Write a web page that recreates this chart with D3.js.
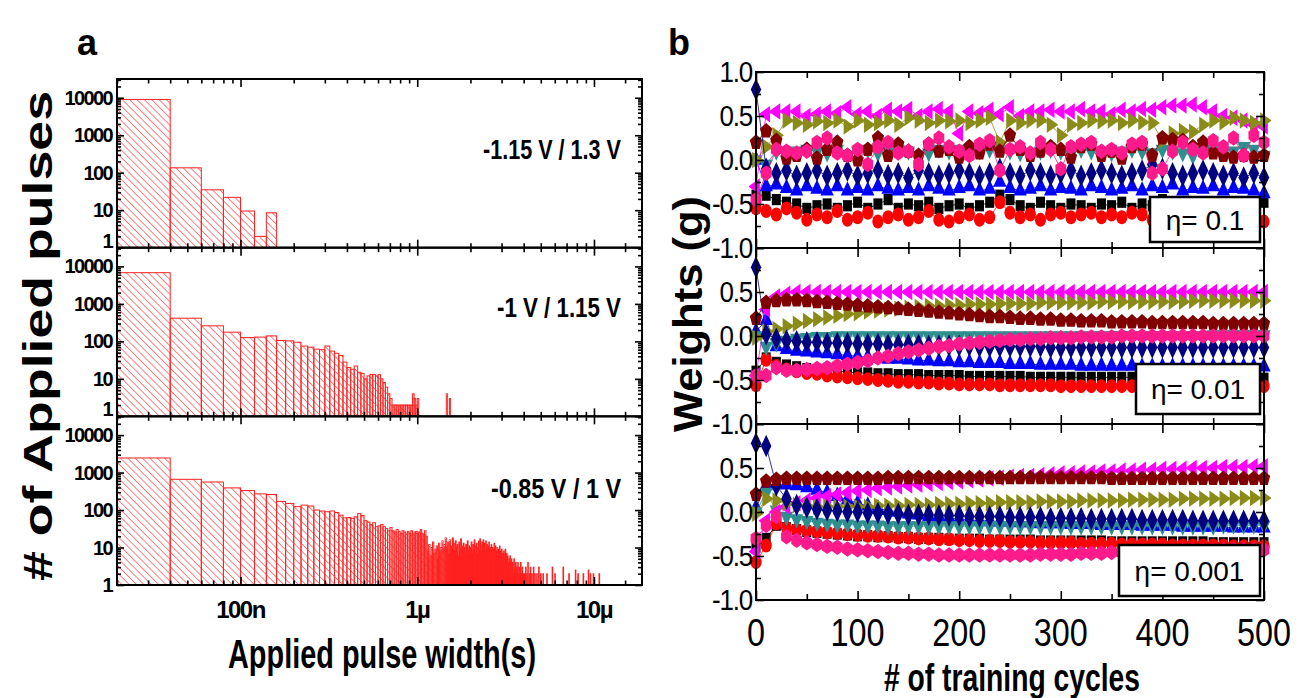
<!DOCTYPE html>
<html>
<head>
<meta charset="utf-8">
<title>Pulse width histograms and weights</title>
<script src="https://d3js.org/d3.v7.min.js"></script>
<style>
  body { margin: 0; background: #fff; }
  svg { display: block; font-family: "Liberation Sans", Arial, sans-serif; }
</style>
</head>
<body>
<svg id="chart" width="1309" height="698"></svg>
<script>
// ---------- panel a : counts per 20 ns bin (bin k covers k*20ns .. (k+1)*20ns)
const binNs = 20;
const countsHigh = [9000, 135, 35, 22, 9.5, 2, 8.5];
const countsMid = [6800, 415, 260, 176, 126, 130, 140, 106, 103, 95,
  75, 70, 62, 60, 75, 55, 48, 42, 28, 20,
  18, 22, 15, 14, 10, 12, 13, 13, 12, 13,
  10, 8, 6, 4, 3, 2, 2, 2, 2, 2,
  2, 2, 2, 2, 2, 2, 4, 3, 2, 3];
const extraMid = [[73, 4], [76, 3]];
const countsLow = [2450, 660, 560, 390, 330, 270, 260, 170, 150, 123,
  135, 128, 100, 94, 90, 94, 86, 73, 62, 63,
  60, 66, 80, 72, 52, 48, 41, 46, 36, 38,
  41, 36, 32, 28, 34, 28, 26, 30, 27, 24,
  28, 26, 23, 27, 24, 28, 23, 26, 27, 24,
  26, 30, 24, 22, 28, 20, 8, 12, 6, 10,
  14, 7, 9, 11, 5, 13, 8, 10, 15, 9,
  12, 18, 10, 14, 7, 16, 11, 9, 18, 13,
  8, 15, 10, 12, 6, 14, 9, 17, 11, 8,
  13, 10, 7, 12, 9, 15, 8, 11, 6, 10,
  14, 7, 12, 9, 16, 8, 11, 13, 7, 10,
  15, 9, 17, 12, 8, 14, 11, 16, 9, 13,
  7, 15, 10, 12, 8, 11, 14, 9, 6, 10,
  12, 8, 10, 6, 9, 13, 7, 11, 5, 8,
  10, 6, 9, 4, 7, 11, 5, 8, 6, 9,
  4, 7, 5, 8, 3, 6, 9, 4, 5, 7,
  3, 6, 4, 2, 5, 3, 6, 4, 2, 5,
  3, 0, 4, 2, 0, 5, 3, 0, 2, 4,
  0, 3, 2, 0, 4, 0, 2, 3, 0, 2,
  0, 4, 0, 2, 0, 3, 0, 0, 2, 0,
  0, 2, 0, 0, 3, 0, 0, 2, 0, 0,
  4, 0, 0, 0, 2, 0, 0, 3, 0, 0,
  0, 2, 0, 0, 0, 0, 3, 0, 0, 0,
  2, 0, 0, 0, 0, 0, 2, 0, 0, 0,
  0, 0, 3, 0, 0, 0, 0, 0, 2, 0,
  0, 0, 0, 0, 0, 0, 2, 0, 0, 0];
const extraLow = [[270, 2], [290, 3], [300, 2], [334, 3], [360, 2], [392, 2.5],
  [405, 2], [434, 2], [464, 2.5], [476, 2], [495, 2], [534, 2]];
const voltLabels = ["-1.15 V / 1.3 V", "-1 V / 1.15 V", "-0.85 V / 1 V"];
const yTicksA = [1, 10, 100, 1000, 10000];
const xTicksA = [1e-7, 1e-6, 1e-5];
const xTickLabelsA = ["100n", "1\u00b5", "10\u00b5"];

// ---------- panel b : weights every 10 training cycles
const cycles = [0, 10, 20, 30, 40, 50, 60, 70, 80, 90, 100, 110, 120, 130, 140, 150, 160, 170, 180, 190,
  200, 210, 220, 230, 240, 250, 260, 270, 280, 290, 300, 310, 320, 330, 340, 350, 360, 370, 380, 390,
  400, 410, 420, 430, 440, 450, 460, 470, 480, 490, 500];
const etaLabels = ["\u03b7= 0.1", "\u03b7= 0.01", "\u03b7= 0.001"];

// eta = 0.1
const w1_square = [-0.40, -0.40, -0.45, -0.48, -0.50, -0.55, -0.52, -0.50, -0.55, -0.52,
  -0.48, -0.55, -0.50, -0.45, -0.55, -0.50, -0.52, -0.48, -0.55, -0.52,
  -0.50, -0.55, -0.52, -0.48, -0.40, -0.45, -0.52, -0.55, -0.48, -0.52,
  -0.55, -0.50, -0.52, -0.55, -0.50, -0.52, -0.48, -0.55, -0.50, -0.52,
  -0.45, -0.50, -0.52, -0.48, -0.50, -0.55, -0.52, -0.50, -0.48, -0.55, -0.48];
const w1_circle = [-0.55, -0.58, -0.62, -0.55, -0.60, -0.68, -0.62, -0.65, -0.58, -0.68,
  -0.65, -0.60, -0.70, -0.65, -0.62, -0.68, -0.65, -0.58, -0.68, -0.70,
  -0.65, -0.62, -0.68, -0.65, -0.48, -0.60, -0.65, -0.62, -0.68, -0.62,
  -0.60, -0.65, -0.62, -0.60, -0.65, -0.62, -0.65, -0.60, -0.62, -0.68,
  -0.62, -0.60, -0.65, -0.62, -0.58, -0.60, -0.62, -0.65, -0.60, -0.62, -0.70];
const w1_up = [0.00, -0.30, -0.28, -0.32, -0.35, -0.30, -0.33, -0.35, -0.30, -0.35,
  -0.32, -0.35, -0.30, -0.33, -0.35, -0.32, -0.35, -0.30, -0.33, -0.35,
  -0.32, -0.30, -0.35, -0.33, -0.25, -0.32, -0.35, -0.33, -0.30, -0.35,
  -0.32, -0.33, -0.35, -0.30, -0.32, -0.35, -0.33, -0.30, -0.35, -0.30,
  -0.32, -0.28, -0.35, -0.32, -0.33, -0.30, -0.35, -0.32, -0.33, -0.35, -0.38];
const w1_down = [0.00, -0.05, 0.10, 0.08, 0.10, 0.12, 0.10, 0.08, 0.12, 0.05,
  0.10, 0.12, 0.08, 0.10, 0.12, 0.10, 0.05, 0.08, 0.12, 0.10,
  0.12, 0.08, 0.10, 0.12, 0.15, 0.10, 0.08, 0.05, 0.10, 0.12,
  0.10, 0.08, 0.12, 0.10, 0.05, 0.08, 0.10, 0.12, 0.10, 0.08,
  0.12, 0.10, 0.08, 0.05, 0.10, 0.12, 0.08, 0.10, 0.15, 0.12, 0.05];
const w1_left = [-0.30, 0.52, 0.55, 0.55, 0.55, 0.50, 0.52, 0.55, 0.53, 0.60,
  0.52, 0.55, 0.50, 0.57, 0.55, 0.58, 0.50, 0.55, 0.58, 0.55,
  0.30, 0.55, 0.53, 0.57, 0.52, 0.60, 0.50, 0.55, 0.55, 0.57,
  0.55, 0.55, 0.58, 0.55, 0.55, 0.52, 0.57, 0.55, 0.58, 0.57,
  0.60, 0.62, 0.62, 0.63, 0.60, 0.55, 0.50, 0.48, 0.45, 0.40, 0.38];
const w1_right = [0.00, 0.15, 0.28, 0.45, 0.42, 0.40, 0.44, 0.42, 0.45, 0.38,
  0.45, 0.40, 0.42, 0.45, 0.40, 0.48, 0.45, 0.42, 0.45, 0.44,
  0.45, 0.42, 0.45, 0.48, 0.20, 0.45, 0.42, 0.45, 0.45, 0.40,
  0.28, 0.40, 0.42, 0.45, 0.44, 0.45, 0.42, 0.45, 0.43, 0.42,
  0.22, 0.30, 0.33, 0.32, 0.40, 0.45, 0.43, 0.48, 0.45, 0.42, 0.45];
const w1_diamond = [0.80, -0.10, -0.15, -0.12, -0.18, -0.15, -0.12, -0.18, -0.15, -0.12,
  -0.18, -0.15, -0.12, -0.17, -0.15, -0.20, -0.12, -0.15, -0.18, -0.15,
  -0.12, -0.15, -0.18, -0.15, -0.10, -0.15, -0.18, -0.12, -0.15, -0.18,
  -0.15, -0.12, -0.18, -0.15, -0.12, -0.15, -0.18, -0.15, -0.12, -0.05,
  -0.10, -0.15, -0.18, -0.15, -0.12, -0.15, -0.18, -0.15, -0.20, -0.15, -0.20];
const w1_pentagon = [0.20, 0.33, 0.22, 0.02, 0.05, 0.12, 0.02, 0.12, 0.20, 0.05,
  0.00, 0.12, 0.25, 0.05, 0.18, 0.10, 0.05, 0.18, 0.10, 0.12,
  0.03, 0.15, 0.08, 0.18, 0.10, 0.28, 0.12, 0.05, 0.10, 0.15,
  0.12, 0.03, 0.15, 0.18, 0.05, 0.10, 0.02, 0.15, 0.18, 0.05,
  0.25, 0.23, 0.22, 0.15, 0.20, 0.08, 0.05, 0.03, 0.05, 0.03, 0.05];
const w1_hexagon = [-0.45, -0.15, 0.12, 0.10, 0.08, 0.10, 0.20, 0.25, 0.08, 0.05,
  0.12, -0.05, 0.15, 0.20, 0.08, 0.10, -0.05, 0.18, 0.25, 0.15,
  0.10, 0.05, 0.18, 0.22, -0.12, 0.12, 0.15, 0.08, 0.20, 0.12,
  -0.10, 0.15, 0.18, 0.20, 0.10, 0.12, 0.08, 0.18, 0.20, -0.15,
  -0.10, 0.10, 0.20, 0.12, 0.08, 0.22, 0.15, 0.25, 0.05, 0.28, 0.20];

// eta = 0.01
const w2_square = [-0.40, -0.25, -0.30, -0.33, -0.35, -0.37, -0.38, -0.39, -0.40, -0.41,
  -0.42, -0.42, -0.43, -0.43, -0.44, -0.44, -0.44, -0.45, -0.45, -0.45,
  -0.45, -0.46, -0.46, -0.46, -0.46, -0.46, -0.46, -0.47, -0.47, -0.47,
  -0.47, -0.47, -0.47, -0.47, -0.47, -0.47, -0.47, -0.47, -0.47, -0.47,
  -0.48, -0.48, -0.48, -0.48, -0.48, -0.48, -0.48, -0.48, -0.48, -0.48, -0.48];
const w2_circle = [-0.56, -0.27, -0.34, -0.38, -0.40, -0.42, -0.43, -0.45, -0.46, -0.47,
  -0.48, -0.49, -0.50, -0.51, -0.52, -0.52, -0.53, -0.53, -0.54, -0.54,
  -0.55, -0.55, -0.55, -0.55, -0.56, -0.56, -0.56, -0.56, -0.56, -0.56,
  -0.57, -0.57, -0.57, -0.57, -0.57, -0.57, -0.57, -0.57, -0.57, -0.57,
  -0.57, -0.57, -0.57, -0.57, -0.57, -0.57, -0.57, -0.57, -0.57, -0.57, -0.57];
const w2_up = [0.05, 0.18, -0.12, -0.15, -0.17, -0.18, -0.19, -0.20, -0.21, -0.22,
  -0.23, -0.24, -0.25, -0.26, -0.26, -0.27, -0.28, -0.28, -0.29, -0.29,
  -0.30, -0.30, -0.31, -0.31, -0.31, -0.32, -0.32, -0.32, -0.33, -0.33,
  -0.33, -0.33, -0.34, -0.34, -0.34, -0.34, -0.34, -0.34, -0.35, -0.35,
  -0.35, -0.35, -0.35, -0.35, -0.35, -0.35, -0.35, -0.35, -0.35, -0.35, -0.35];
const w2_down = [0.00, -0.12, -0.08, -0.05, -0.03, -0.02, -0.01, -0.01, 0.00, 0.00,
  0.00, 0.00, 0.00, 0.00, 0.00, 0.00, 0.00, 0.00, 0.00, 0.00,
  0.00, 0.00, 0.00, 0.00, 0.00, 0.00, 0.00, 0.00, 0.00, 0.00,
  0.00, 0.00, 0.00, 0.00, 0.00, 0.00, 0.00, 0.00, 0.00, 0.00,
  0.00, 0.00, 0.00, 0.00, 0.00, 0.01, 0.01, 0.01, 0.01, 0.01, 0.01];
const w2_left = [-0.45, 0.30, 0.45, 0.48, 0.50, 0.50, 0.50, 0.50, 0.50, 0.50,
  0.50, 0.50, 0.50, 0.50, 0.50, 0.50, 0.50, 0.50, 0.50, 0.50,
  0.50, 0.50, 0.50, 0.50, 0.50, 0.50, 0.50, 0.50, 0.50, 0.50,
  0.50, 0.50, 0.50, 0.50, 0.50, 0.50, 0.50, 0.50, 0.50, 0.50,
  0.50, 0.50, 0.50, 0.50, 0.50, 0.50, 0.50, 0.50, 0.50, 0.50, 0.50];
const w2_right = [-0.02, 0.05, 0.08, 0.11, 0.14, 0.17, 0.19, 0.21, 0.23, 0.25,
  0.26, 0.28, 0.29, 0.30, 0.31, 0.32, 0.33, 0.34, 0.34, 0.35,
  0.35, 0.36, 0.36, 0.36, 0.37, 0.37, 0.37, 0.37, 0.38, 0.38,
  0.38, 0.38, 0.38, 0.38, 0.39, 0.39, 0.39, 0.39, 0.39, 0.39,
  0.39, 0.39, 0.39, 0.40, 0.40, 0.40, 0.40, 0.40, 0.40, 0.40, 0.40];
const w2_diamond = [0.78, 0.02, -0.03, -0.05, -0.06, -0.07, -0.07, -0.08, -0.08, -0.08,
  -0.09, -0.09, -0.09, -0.10, -0.10, -0.10, -0.10, -0.11, -0.11, -0.11,
  -0.11, -0.11, -0.12, -0.12, -0.12, -0.12, -0.12, -0.12, -0.12, -0.13,
  -0.13, -0.13, -0.13, -0.13, -0.13, -0.13, -0.13, -0.13, -0.13, -0.13,
  -0.13, -0.13, -0.13, -0.13, -0.13, -0.13, -0.13, -0.13, -0.13, -0.13, -0.13];
const w2_pentagon = [0.20, 0.38, 0.40, 0.41, 0.41, 0.40, 0.39, 0.38, 0.37, 0.36,
  0.35, 0.34, 0.33, 0.32, 0.31, 0.30, 0.29, 0.28, 0.27, 0.26,
  0.25, 0.24, 0.23, 0.22, 0.22, 0.21, 0.20, 0.20, 0.19, 0.19,
  0.18, 0.18, 0.17, 0.17, 0.17, 0.16, 0.16, 0.16, 0.16, 0.15,
  0.15, 0.15, 0.15, 0.15, 0.15, 0.14, 0.14, 0.14, 0.14, 0.14, 0.14];
const w2_hexagon = [-0.45, -0.45, -0.36, -0.39, -0.39, -0.38, -0.37, -0.36, -0.34, -0.32,
  -0.30, -0.28, -0.25, -0.23, -0.20, -0.18, -0.16, -0.14, -0.12, -0.11,
  -0.09, -0.08, -0.07, -0.06, -0.05, -0.04, -0.04, -0.03, -0.03, -0.02,
  -0.02, -0.02, -0.01, -0.01, -0.01, -0.01, 0.00, 0.00, 0.00, 0.00,
  0.00, 0.00, 0.00, 0.00, 0.00, 0.00, 0.00, 0.00, 0.00, 0.00, 0.00];

// eta = 0.001
const w3_square = [-0.40, -0.30, -0.15, -0.18, -0.20, -0.22, -0.23, -0.24, -0.25, -0.26,
  -0.27, -0.27, -0.28, -0.28, -0.29, -0.29, -0.30, -0.30, -0.30, -0.31,
  -0.31, -0.31, -0.31, -0.32, -0.32, -0.32, -0.32, -0.32, -0.33, -0.33,
  -0.33, -0.33, -0.33, -0.33, -0.33, -0.34, -0.34, -0.34, -0.34, -0.34,
  -0.34, -0.34, -0.34, -0.34, -0.34, -0.35, -0.35, -0.35, -0.35, -0.35, -0.35];
const w3_circle = [-0.57, -0.38, -0.13, -0.18, -0.20, -0.21, -0.22, -0.23, -0.24, -0.25,
  -0.26, -0.27, -0.27, -0.28, -0.29, -0.29, -0.30, -0.30, -0.31, -0.31,
  -0.32, -0.32, -0.33, -0.33, -0.33, -0.34, -0.34, -0.34, -0.35, -0.35,
  -0.35, -0.35, -0.36, -0.36, -0.36, -0.36, -0.37, -0.37, -0.37, -0.37,
  -0.37, -0.38, -0.38, -0.38, -0.38, -0.38, -0.38, -0.39, -0.39, -0.39, -0.39];
const w3_up = [0.05, 0.30, 0.32, 0.31, 0.30, 0.28, 0.25, 0.22, 0.18, 0.14,
  0.10, 0.07, 0.04, 0.02, 0.00, -0.02, -0.03, -0.05, -0.06, -0.07,
  -0.08, -0.09, -0.10, -0.10, -0.11, -0.11, -0.12, -0.12, -0.13, -0.13,
  -0.13, -0.14, -0.14, -0.14, -0.15, -0.15, -0.15, -0.15, -0.16, -0.16,
  -0.16, -0.16, -0.17, -0.17, -0.17, -0.17, -0.17, -0.18, -0.18, -0.18, -0.18];
const w3_down = [0.00, 0.22, 0.02, -0.05, -0.08, -0.10, -0.12, -0.13, -0.14, -0.14,
  -0.15, -0.15, -0.15, -0.16, -0.16, -0.16, -0.16, -0.16, -0.16, -0.16,
  -0.16, -0.16, -0.16, -0.16, -0.16, -0.16, -0.16, -0.16, -0.16, -0.16,
  -0.16, -0.16, -0.16, -0.16, -0.16, -0.16, -0.16, -0.16, -0.16, -0.16,
  -0.16, -0.16, -0.16, -0.16, -0.16, -0.16, -0.15, -0.15, -0.15, -0.15, -0.15];
const w3_left = [-0.45, -0.10, 0.00, 0.06, 0.10, 0.13, 0.16, 0.18, 0.20, 0.22,
  0.24, 0.25, 0.27, 0.28, 0.29, 0.30, 0.31, 0.32, 0.33, 0.34,
  0.35, 0.36, 0.37, 0.38, 0.39, 0.40, 0.41, 0.41, 0.42, 0.43,
  0.44, 0.44, 0.45, 0.45, 0.46, 0.46, 0.47, 0.47, 0.48, 0.48,
  0.49, 0.49, 0.49, 0.50, 0.50, 0.50, 0.51, 0.51, 0.51, 0.52, 0.52];
const w3_right = [-0.02, 0.15, 0.13, 0.10, 0.08, 0.07, 0.06, 0.06, 0.06, 0.06,
  0.06, 0.06, 0.07, 0.07, 0.07, 0.08, 0.08, 0.08, 0.09, 0.09,
  0.09, 0.10, 0.10, 0.10, 0.11, 0.11, 0.11, 0.11, 0.12, 0.12,
  0.12, 0.12, 0.13, 0.13, 0.13, 0.13, 0.13, 0.14, 0.14, 0.14,
  0.14, 0.14, 0.15, 0.15, 0.15, 0.15, 0.15, 0.16, 0.16, 0.16, 0.16];
const w3_diamond = [0.78, 0.75, 0.30, 0.15, 0.08, 0.05, 0.03, 0.02, 0.01, 0.00,
  0.00, -0.01, -0.01, -0.02, -0.02, -0.03, -0.03, -0.03, -0.04, -0.04,
  -0.04, -0.05, -0.05, -0.05, -0.05, -0.06, -0.06, -0.06, -0.06, -0.07,
  -0.07, -0.07, -0.07, -0.08, -0.08, -0.08, -0.08, -0.08, -0.09, -0.09,
  -0.09, -0.09, -0.09, -0.10, -0.10, -0.10, -0.10, -0.10, -0.10, -0.10, -0.10];
const w3_pentagon = [0.20, 0.35, 0.37, 0.38, 0.38, 0.38, 0.38, 0.38, 0.38, 0.38,
  0.38, 0.38, 0.38, 0.39, 0.39, 0.39, 0.39, 0.39, 0.39, 0.39,
  0.39, 0.39, 0.39, 0.39, 0.39, 0.39, 0.39, 0.39, 0.39, 0.39,
  0.39, 0.39, 0.39, 0.39, 0.39, 0.38, 0.38, 0.38, 0.38, 0.38,
  0.38, 0.38, 0.38, 0.38, 0.38, 0.38, 0.38, 0.38, 0.38, 0.38, 0.38];
const w3_hexagon = [-0.30, -0.15, -0.05, -0.28, -0.32, -0.35, -0.37, -0.39, -0.40, -0.42,
  -0.43, -0.44, -0.45, -0.46, -0.47, -0.47, -0.48, -0.48, -0.49, -0.49,
  -0.49, -0.49, -0.49, -0.49, -0.49, -0.49, -0.49, -0.49, -0.48, -0.48,
  -0.48, -0.48, -0.47, -0.47, -0.47, -0.46, -0.46, -0.46, -0.45, -0.45,
  -0.45, -0.45, -0.44, -0.44, -0.44, -0.44, -0.43, -0.43, -0.43, -0.43, -0.43];

const seriesColors = ["#000000", "#ff0000", "#0000ff", "#2f8f8f", "#ff00ff", "#8b8b1a", "#000080", "#800000", "#ff1a8c"];

// ---------- custom marker shapes
function polygonSymbol(n, rot) {
  return {
    draw(ctx, size) {
      const r = Math.sqrt(size / (0.5 * n * Math.sin(2 * Math.PI / n)));
      for (let i = 0; i < n; i++) {
        const a = rot + i * 2 * Math.PI / n;
        if (i === 0) ctx.moveTo(r * Math.cos(a), r * Math.sin(a));
        else ctx.lineTo(r * Math.cos(a), r * Math.sin(a));
      }
      ctx.closePath();
    }
  };
}
const tri = polygonSymbol(3, -Math.PI / 2);
const markers = [
  { type: d3.symbolSquare, size: 90, rot: 0 },
  { type: d3.symbolCircle, size: 110, rot: 0 },
  { type: tri, size: 85, rot: 0 },
  { type: tri, size: 85, rot: 180 },
  { type: tri, size: 85, rot: -90 },
  { type: tri, size: 85, rot: 90 },
  { type: d3.symbolDiamond, size: 105, rot: 0 },
  { type: polygonSymbol(5, -Math.PI / 2), size: 110, rot: 0 },
  { type: polygonSymbol(6, -Math.PI / 2), size: 112, rot: 0 }
];

const svg = d3.select("#chart");
const defs = svg.append("defs");
defs.append("pattern")
  .attr("id", "hatch")
  .attr("patternUnits", "userSpaceOnUse")
  .attr("width", 5.2).attr("height", 5.2)
  .attr("patternTransform", "rotate(-45)")
  .append("line")
  .attr("x1", 0).attr("y1", 0).attr("x2", 0).attr("y2", 5.2)
  .attr("stroke", "#ff3030").attr("stroke-width", 1.2);

// ================= panel a =================
const aLeft = 117, aRight = 642, aTop = 79, aBottom = 585;
const aH = (aBottom - aTop) / 3;
const xA = d3.scaleLog().domain([2e-8, 1.87e-5]).range([aLeft, aRight]);
const yDomainA = [1, Math.pow(10, 4.5)];
const panelsA = [
  { counts: countsHigh, extra: [] },
  { counts: countsMid, extra: extraMid },
  { counts: countsLow, extra: extraLow }
];
const xMinorA = [];
[1e-8, 1e-7, 1e-6].forEach(dec => { for (let m = 2; m <= 9; m++) { if (dec * m >= 2e-8) xMinorA.push(dec * m); } });
xMinorA.push(1.5e-5);
const yMinorA = [];
[1, 10, 100, 1000, 10000].forEach(dec => { for (let m = 2; m <= 9; m++) { if (dec * m < yDomainA[1]) yMinorA.push(dec * m); } });

defs.append("clipPath").attr("id", "clipA")
  .append("rect").attr("x", aLeft).attr("y", aTop).attr("width", aRight - aLeft).attr("height", aBottom - aTop);

panelsA.forEach((p, i) => {
  const top = aTop + i * aH, bot = top + aH;
  const y = d3.scaleLog().domain(yDomainA).range([bot, top]);
  const g = svg.append("g");
  const bars = p.counts.map((c, j) => ({ k: j + 1, c: c })).concat(p.extra.map(e => ({ k: e[0], c: e[1] })))
    .filter(d => d.c > 1);
  g.append("g").attr("clip-path", "url(#clipA)")
    .selectAll("rect").data(bars).join("rect")
    .attr("x", d => xA(d.k * binNs * 1e-9))
    .attr("width", d => Math.max(0.6, xA((d.k + 1) * binNs * 1e-9) - xA(d.k * binNs * 1e-9)))
    .attr("y", d => y(d.c))
    .attr("height", d => y(1) - y(d.c))
    .attr("fill", "url(#hatch)")
    .attr("stroke", "#ff2020").attr("stroke-width", 1);

  // ticks (inward on all four sides)
  const axes = [
    [d3.axisBottom(xA).tickValues(xTicksA).tickSize(-8), `translate(0,${bot})`],
    [d3.axisBottom(xA).tickValues(xMinorA).tickSize(-4.5), `translate(0,${bot})`],
    [d3.axisTop(xA).tickValues(xTicksA).tickSize(-8), `translate(0,${top})`],
    [d3.axisTop(xA).tickValues(xMinorA).tickSize(-4.5), `translate(0,${top})`],
    [d3.axisLeft(y).tickValues(yTicksA).tickSize(-7), `translate(${aLeft},0)`],
    [d3.axisLeft(y).tickValues(yMinorA).tickSize(-4), `translate(${aLeft},0)`],
    [d3.axisRight(y).tickValues(yTicksA).tickSize(-7), `translate(${aRight},0)`],
    [d3.axisRight(y).tickValues(yMinorA).tickSize(-4), `translate(${aRight},0)`]
  ];
  axes.forEach(([ax, tr]) => {
    const a = g.append("g").attr("transform", tr).call(ax.tickFormat(""));
    a.select(".domain").remove();
    a.selectAll("line").attr("stroke", "#000").attr("stroke-width", 1.6);
  });
  g.append("rect").attr("x", aLeft).attr("y", top).attr("width", aRight - aLeft).attr("height", aH)
    .attr("fill", "none").attr("stroke", "#000").attr("stroke-width", 2);

  // the "1" label of the upper two panels sits a little above the shared border
  g.selectAll(".ylab").data(yTicksA).join("text")
    .attr("x", aLeft - 5).attr("y", d => y(d) + (d === 1 && i < 2 ? 0 : 7))
    .attr("text-anchor", "end").attr("font-size", 20).attr("font-weight", "bold")
    .attr("letter-spacing", -1.6)
    .text(d => d);

  g.append("text")
    .attr("x", 621).attr("y", top + [80, 69, 82][i])
    .attr("text-anchor", "end").attr("font-size", 27).attr("font-weight", "bold")
    .attr("textLength", [138, 124, 130][i]).attr("lengthAdjust", "spacingAndGlyphs")
    .text(voltLabels[i]);
});

svg.selectAll(".xlabA").data(xTicksA).join("text")
  .attr("x", d => xA(d)).attr("y", 618)
  .attr("text-anchor", "middle").attr("font-size", 24).attr("font-weight", "bold")
  .attr("letter-spacing", -1.5)
  .text((d, i) => xTickLabelsA[i]);

svg.append("text").attr("x", 382).attr("y", 668)
  .attr("text-anchor", "middle").attr("font-size", 40).attr("font-weight", "bold")
  .attr("textLength", 308).attr("lengthAdjust", "spacingAndGlyphs")
  .text("Applied pulse width(s)");

svg.append("text").attr("transform", "translate(52,336) rotate(-90)")
  .attr("text-anchor", "middle").attr("font-size", 40).attr("font-weight", "bold")
  .attr("textLength", 490).attr("lengthAdjust", "spacingAndGlyphs")
  .text("# of Applied pulses");

svg.append("text").attr("x", 77).attr("y", 55).attr("font-size", 36).attr("font-weight", "bold").text("a");

// ================= panel b =================
const bLeft = 756, bRight = 1264, bTop = 72, bBottom = 600;
const bH = (bBottom - bTop) / 3;
const xB = d3.scaleLinear().domain([0, 500]).range([bLeft, bRight]);
const panelsB = [
  [w1_square, w1_circle, w1_up, w1_down, w1_left, w1_right, w1_diamond, w1_pentagon, w1_hexagon],
  [w2_square, w2_circle, w2_up, w2_down, w2_left, w2_right, w2_diamond, w2_pentagon, w2_hexagon],
  [w3_square, w3_circle, w3_up, w3_down, w3_left, w3_right, w3_diamond, w3_pentagon, w3_hexagon]
];
const legendBoxes = [[1150, 197, 110, 45], [1136, 364, 124, 50], [1119, 545, 141, 51]];
const xMajorB = [0, 100, 200, 300, 400, 500];
const xMinorB = [50, 150, 250, 350, 450];
const yMajorB = [-1, -0.5, 0, 0.5, 1];
const yMinorB = [-0.75, -0.25, 0.25, 0.75];

defs.append("clipPath").attr("id", "clipB")
  .append("rect").attr("x", bLeft - 7).attr("y", bTop).attr("width", bRight - bLeft + 14).attr("height", bBottom - bTop);

panelsB.forEach((series, i) => {
  const top = bTop + i * bH, bot = top + bH;
  const y = d3.scaleLinear().domain([-1, 1]).range([bot, top]);
  const g = svg.append("g");
  const plot = g.append("g").attr("clip-path", "url(#clipB)");
  const line = d3.line().x((d, j) => xB(cycles[j])).y(d => y(d));

  series.forEach((vals, s) => {
    plot.append("path").datum(vals)
      .attr("d", line).attr("fill", "none")
      .attr("stroke", seriesColors[s]).attr("stroke-width", 0.8);
    const sym = d3.symbol().type(markers[s].type).size(markers[s].size);
    plot.selectAll(null).data(vals).join("path")
      .attr("d", sym)
      .attr("transform", (d, j) => `translate(${xB(cycles[j])},${y(d)}) scale(0.95,1.18) rotate(${markers[s].rot})`)
      .attr("fill", seriesColors[s]);
  });

  const axes = [
    [d3.axisBottom(xB).tickValues(xMajorB).tickSize(-9), `translate(0,${bot})`],
    [d3.axisBottom(xB).tickValues(xMinorB).tickSize(-6), `translate(0,${bot})`],
    [d3.axisTop(xB).tickValues(xMajorB).tickSize(-9), `translate(0,${top})`],
    [d3.axisTop(xB).tickValues(xMinorB).tickSize(-6), `translate(0,${top})`],
    [d3.axisLeft(y).tickValues(yMajorB).tickSize(-8), `translate(${bLeft},0)`],
    [d3.axisLeft(y).tickValues(yMinorB).tickSize(-5), `translate(${bLeft},0)`],
    [d3.axisRight(y).tickValues(yMajorB).tickSize(-8), `translate(${bRight},0)`],
    [d3.axisRight(y).tickValues(yMinorB).tickSize(-5), `translate(${bRight},0)`]
  ];
  axes.forEach(([ax, tr]) => {
    const a = g.append("g").attr("transform", tr).call(ax.tickFormat(""));
    a.select(".domain").remove();
    a.selectAll("line").attr("stroke", "#000").attr("stroke-width", 1.6);
  });

  const lb = legendBoxes[i];
  g.append("rect").attr("x", lb[0]).attr("y", lb[1]).attr("width", lb[2]).attr("height", lb[3])
    .attr("fill", "#fff").attr("stroke", "#000").attr("stroke-width", 2.5);
  g.append("text").attr("x", lb[0] + lb[2] / 2).attr("y", lb[1] + lb[3] / 2 + 10)
    .attr("text-anchor", "middle").attr("font-size", 28)
    .text(etaLabels[i]);

  g.append("rect").attr("x", bLeft).attr("y", top).attr("width", bRight - bLeft).attr("height", bH)
    .attr("fill", "none").attr("stroke", "#000").attr("stroke-width", 2);

  const labs = i === 0 ? yMajorB : yMajorB.filter(v => v < 1);
  g.selectAll(".ylab").data(labs).join("text")
    .attr("transform", d => `translate(${bLeft - 4},${y(d) + 10}) scale(1,1.15)`)
    .attr("text-anchor", "end").attr("font-size", 26)
    .attr("letter-spacing", -1.2)
    .text(d => d3.format(".1f")(d).replace("\u2212", "-"));
});

svg.selectAll(".xlabB").data(xMajorB).join("text")
  .attr("x", d => xB(d)).attr("y", 646)
  .attr("text-anchor", "middle").attr("font-size", 38)
  .attr("textLength", d => String(d).length * 18).attr("lengthAdjust", "spacingAndGlyphs")
  .text(d => d);

svg.append("text").attr("x", 1012).attr("y", 691)
  .attr("text-anchor", "middle").attr("font-size", 38).attr("font-weight", "bold")
  .attr("textLength", 256).attr("lengthAdjust", "spacingAndGlyphs")
  .text("# of training cycles");

svg.append("text").attr("transform", "translate(702,314) rotate(-90)")
  .attr("text-anchor", "middle").attr("font-size", 40).attr("font-weight", "bold")
  .attr("textLength", 236).attr("lengthAdjust", "spacingAndGlyphs")
  .text("Weights (g)");

svg.append("text").attr("x", 668).attr("y", 55).attr("font-size", 36).attr("font-weight", "bold").text("b");
</script>
</body>
</html>
